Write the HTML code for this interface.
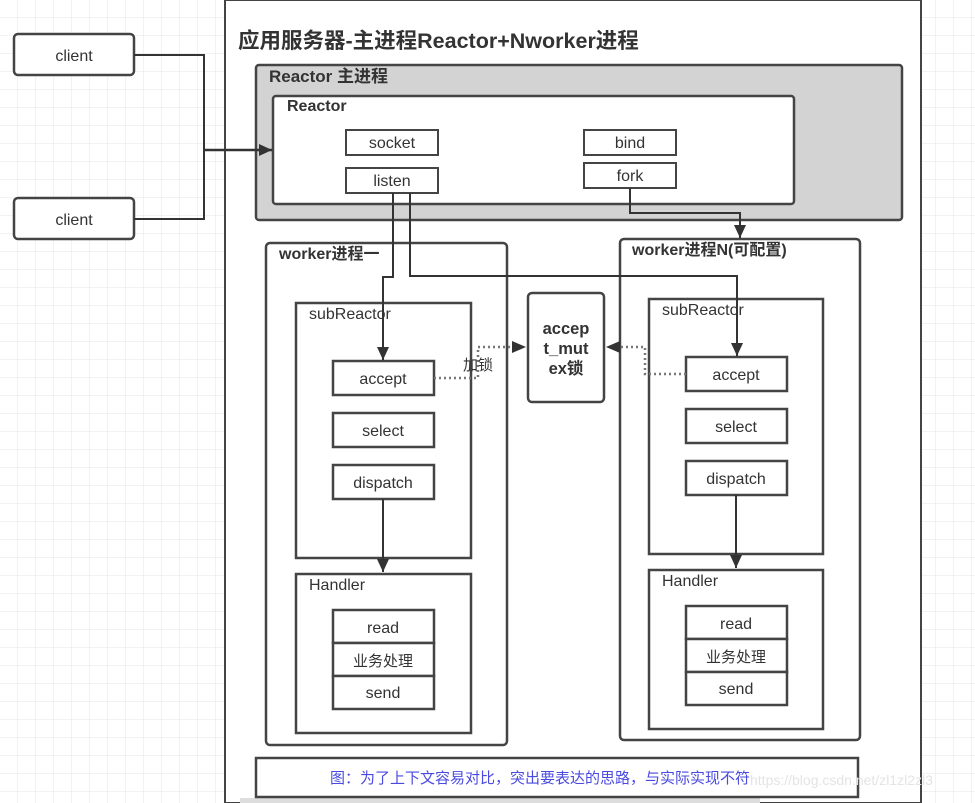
<!DOCTYPE html>
<html><head><meta charset="utf-8"><style>
html,body{margin:0;padding:0;background:#fff}
svg{display:block}
text{font-family:"Liberation Sans","Noto Sans CJK SC",sans-serif;fill:#333}
.b{font-weight:bold}
</style></head><body>
<svg width="975" height="803" viewBox="0 0 975 803" xmlns="http://www.w3.org/2000/svg">
<defs>
<pattern id="g" width="18" height="18" patternUnits="userSpaceOnUse" x="0" y="0">
<path d="M18 0V18M0 18H18" stroke="#e6e6e6" stroke-width="1" fill="none"/>
</pattern>
<marker id="a2" markerWidth="14" markerHeight="14" refX="13" refY="6" orient="auto" markerUnits="userSpaceOnUse">
<path d="M0,0 L13,6 L0,12 z" fill="#333"/>
</marker>
</defs>
<rect width="975" height="803" fill="url(#g)"/>
<rect x="225" y="0" width="696" height="803" fill="#fff" stroke="#444" stroke-width="2"/>
<rect x="240" y="798" width="520" height="5" fill="#ddd"/>

<!-- clients -->
<rect x="14" y="34" width="120" height="41" rx="4" fill="#fff" stroke="#444" stroke-width="2.5"/>
<text x="74" y="61" font-size="16" text-anchor="middle">client</text>
<rect x="14" y="198" width="120" height="41" rx="4" fill="#fff" stroke="#444" stroke-width="2.5"/>
<text x="74" y="225" font-size="16" text-anchor="middle">client</text>
<path d="M134 55H204V219H134" fill="none" stroke="#333" stroke-width="2"/>

<text x="238" y="48" font-size="21.5" class="b">应用服务器-主进程Reactor+Nworker进程</text>

<rect x="256" y="65" width="646" height="155" rx="3" fill="#d3d3d3" stroke="#444" stroke-width="2.5"/>
<text x="269" y="82" font-size="17" class="b">Reactor 主进程</text>
<rect x="273" y="96" width="521" height="108" rx="3" fill="#fff" stroke="#444" stroke-width="2.5"/>
<text x="287" y="111" font-size="16" class="b">Reactor</text>
<path d="M204 150H272" fill="none" stroke="#333" stroke-width="2.5" marker-end="url(#a2)"/>

<g stroke="#444" stroke-width="2" fill="#fff">
<rect x="346" y="130" width="92" height="25"/>
<rect x="346" y="168" width="92" height="25"/>
<rect x="584" y="130" width="92" height="25"/>
<rect x="584" y="163" width="92" height="25"/>
</g>
<g font-size="16" text-anchor="middle">
<text x="392" y="148">socket</text>
<text x="392" y="186">listen</text>
<text x="630" y="148">bind</text>
<text x="630" y="181">fork</text>
</g>

<!-- workers -->
<g stroke="#444" stroke-width="2.5" fill="#fff">
<rect x="266" y="243" width="241" height="502" rx="4"/>
<rect x="620" y="239" width="240" height="501" rx="4"/>
<rect x="296" y="303" width="175" height="255"/>
<rect x="296" y="574" width="175" height="159"/>
<rect x="649" y="299" width="174" height="255"/>
<rect x="649" y="570" width="174" height="159"/>
<rect x="333" y="361" width="101" height="34"/>
<rect x="333" y="413" width="101" height="34"/>
<rect x="333" y="465" width="101" height="34"/>
<rect x="333" y="610" width="101" height="33"/>
<rect x="333" y="643" width="101" height="33"/>
<rect x="333" y="676" width="101" height="33"/>
<rect x="686" y="357" width="101" height="34"/>
<rect x="686" y="409" width="101" height="34"/>
<rect x="686" y="461" width="101" height="34"/>
<rect x="686" y="606" width="101" height="33"/>
<rect x="686" y="639" width="101" height="33"/>
<rect x="686" y="672" width="101" height="33"/>
<rect x="528" y="293" width="76" height="109" rx="4"/>
</g>
<text x="279" y="259" font-size="16" class="b">worker进程一</text>
<text x="632" y="255" font-size="16" class="b">worker进程N(可配置)</text>
<text x="309" y="319" font-size="16">subReactor</text>
<text x="309" y="590" font-size="16">Handler</text>
<text x="662" y="315" font-size="16">subReactor</text>
<text x="662" y="586" font-size="16">Handler</text>
<g font-size="16" text-anchor="middle">
<text x="383" y="384">accept</text>
<text x="383" y="436">select</text>
<text x="383" y="488">dispatch</text>
<text x="383" y="633">read</text>
<text x="383" y="666" font-size="15">业务处理</text>
<text x="383" y="698">send</text>
<text x="736" y="380">accept</text>
<text x="736" y="432">select</text>
<text x="736" y="484">dispatch</text>
<text x="736" y="629">read</text>
<text x="736" y="662" font-size="15">业务处理</text>
<text x="736" y="694">send</text>
</g>
<g font-size="16.5" text-anchor="middle">
<text x="566" y="334" class="b">accep</text>
<text x="566" y="354" class="b">t_mut</text>
<text x="566" y="374" class="b">ex锁</text>
</g>

<!-- connectors -->
<g fill="none" stroke="#333" stroke-width="2">
<path d="M393 193V277H383V360" marker-end="url(#a2)"/>
<path d="M410 193V276H737V356" marker-end="url(#a2)"/>
<path d="M630 188V213H740V238" marker-end="url(#a2)"/>
<path d="M383 499V572" marker-end="url(#a2)"/>
<path d="M736 495V568" marker-end="url(#a2)"/>
</g>
<g fill="none" stroke="#777" stroke-width="2.5" stroke-dasharray="2,3">
<path d="M434 378H478V347H512"/>
<path d="M686 374H645V347H620"/>
</g>
<path d="M512 341L526 347L512 353z" fill="#333"/>
<path d="M620 341L606 347L620 353z" fill="#333"/>
<text x="463" y="370" font-size="15">加锁</text>

<rect x="256" y="758" width="602" height="39" fill="#fff" stroke="#444" stroke-width="2.5"/>
<text x="330" y="783" font-size="15" style="fill:#4a4ae0">图：为了上下文容易对比，突出要表达的思路，与实际实现不符</text>
<text x="750" y="785" font-size="14" style="fill:#e4e4e4">https://blog.csdn.net/zl1zl2zl3</text>
</svg>
</body></html>
